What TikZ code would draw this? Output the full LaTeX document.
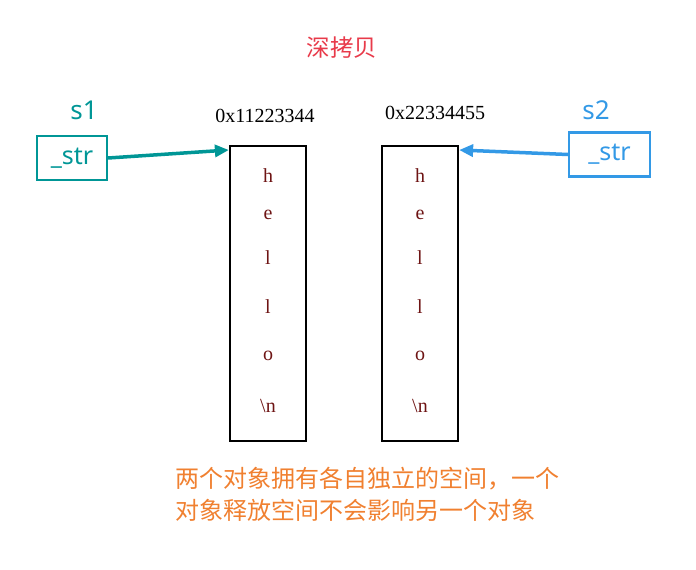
\documentclass[tikz,border=0pt]{standalone}
\usepackage{fontspec}
\usetikzlibrary{arrows.meta}
\setmainfont{Liberation Serif}
\newfontfamily\cjk{Noto Sans CJK SC}
\newfontfamily\sans{Noto Sans}
\definecolor{teal1}{RGB}{0,150,150}
\definecolor{blue1}{RGB}{51,153,230}
\definecolor{red1}{RGB}{232,58,74}
\definecolor{orange1}{RGB}{240,128,48}
\definecolor{chr}{RGB}{110,20,20}
\begin{document}
\begin{tikzpicture}[x=1pt,y=-1pt,
  mem/.style={draw=black,line width=2.2pt,minimum width=76pt,minimum height=295pt,inner sep=0pt},
  ptr/.style={draw=#1,line width=2.2pt,minimum width=70pt,minimum height=44pt,inner sep=0pt,text=#1,font=\sans\fontsize{25}{28}\selectfont},
  lbl/.style={text=#1,font=\sans\fontsize{26}{30}\selectfont},
  addr/.style={font=\fontsize{20}{24}\selectfont},
  ch/.style={text=chr,font=\fontsize{20}{24}\selectfont},
  arr/.style={draw=#1,line width=3.5pt,-{Triangle[length=14pt,width=12pt]}}]
\useasboundingbox (0,0) rectangle (696,570);
\node[text=red1,font=\cjk\fontsize{23.5}{26}\selectfont] (title) at (342,48) {深拷贝};
\node[lbl=teal1] (s1) at (84,110) {s1};
\node[ptr=teal1] (p1) at (72,158) {\_str};
\node[lbl=blue1] (s2) at (596,110) {s2};
\node[ptr=blue1,minimum width=81pt] (p2) at (609.5,154.5) {\_str};
\node[addr] (a1) at (265,116) {0x11223344};
\node[addr] (a2) at (435,113) {0x22334455};
\node[mem] (m1) at (268,293.5) {};
\node[mem] (m2) at (420,293.5) {};
\foreach \x/\n in {268/a,420/b}{
  \node[ch] (\n h) at (\x,176) {h};
  \node[ch] (\n e) at (\x,215) {e};
  \node[ch] (\n l1) at (\x,258) {l};
  \node[ch] (\n l2) at (\x,307) {l};
  \node[ch] (\n o) at (\x,356) {o};
  \node[ch] (\n n) at (\x,406) {\textbackslash n};
}
\draw[arr=teal1] (p1.east) -- (m1.north west |- 0,150);
\draw[arr=blue1] (p2.west) -- (m2.north east |- 0,150);
\node[text=orange1,font=\cjk\fontsize{24}{32}\selectfont,align=left,anchor=north west,inner sep=0pt] (note) at (175,467) {两个对象拥有各自独立的空间，一个\\对象释放空间不会影响另一个对象};
\end{tikzpicture}
\end{document}
